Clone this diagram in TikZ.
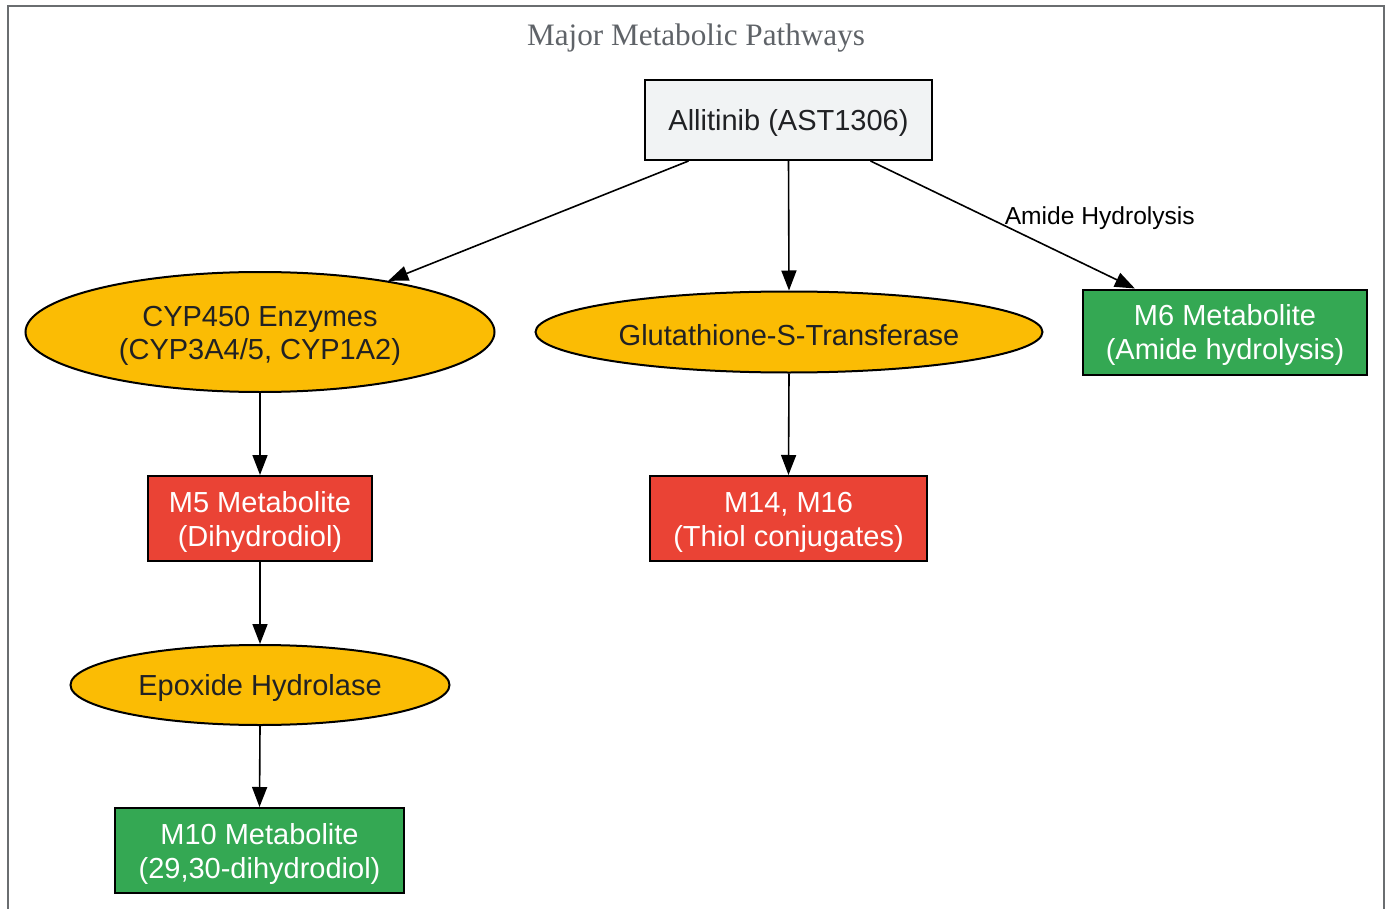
\documentclass[tikz,border=0pt]{standalone}
\usepackage{fontspec}
\setmainfont{Liberation Sans}
\newfontfamily\titlefont{Liberation Serif}
\usetikzlibrary{shapes.geometric,arrows.meta}
\definecolor{cyel}{HTML}{FBBC04}
\definecolor{cred}{HTML}{EA4335}
\definecolor{cgrn}{HTML}{34A853}
\definecolor{cgray}{HTML}{F1F3F4}
\definecolor{ctxt}{HTML}{202124}
\definecolor{cframe}{HTML}{6A6D70}
\definecolor{ctitle}{HTML}{5F6368}
\newcommand\topstrut{\rule{0pt}{14pt}}
\tikzset{
  base/.style={draw=black, line width=1pt, inner sep=0pt, align=center, font=\fontsize{14.5}{17}\selectfont},
  drugbox/.style={base, rectangle, fill=cgray, text=ctxt},
  enzyme/.style={base, ellipse, fill=cyel, text=ctxt},
  redbox/.style={base, rectangle, fill=cred, text=white},
  grnbox/.style={base, rectangle, fill=cgrn, text=white},
  conn/.style={draw=black, line width=0.8pt, -{Triangle[length=10pt,width=7.5pt]}},
  elabel/.style={font=\fontsize{12.3}{14}\selectfont, text=black}
}
\begin{document}
\begin{tikzpicture}[x=0.5pt,y=-0.5pt]
\useasboundingbox (0,0) rectangle (1391,909);
\draw[cframe, line width=1pt] (8,909) -- (8,6) -- (1384,6) -- (1384,909);
\node[font=\titlefont\fontsize{15.6}{18}\selectfont, text=ctitle] (title) at (696,38) {Major Metabolic Pathways};
\node[drugbox, minimum width=143.5pt, minimum height=40pt] (allit) at (788.5,120) {\topstrut Allitinib (AST1306)};
\node[enzyme, minimum width=234.5pt, minimum height=60pt] (cyp) at (260,332) {\topstrut CYP450 Enzymes\\(CYP3A4/5, CYP1A2)};
\node[enzyme, minimum width=253.5pt, minimum height=40.5pt] (gst) at (789,332) {\topstrut Glutathione-S-Transferase};
\node[grnbox, minimum width=142pt, minimum height=42.5pt] (m6) at (1225,332) {\topstrut M6 Metabolite\\(Amide hydrolysis)};
\node[redbox, minimum width=112pt, minimum height=42.5pt] (m5) at (260,518.5) {\topstrut M5 Metabolite\\(Dihydrodiol)};
\node[redbox, minimum width=138.5pt, minimum height=42.5pt] (m14) at (788.5,518.5) {\topstrut M14, M16\\(Thiol conjugates)};
\node[enzyme, minimum width=189.5pt, minimum height=40pt] (epox) at (260,685) {\topstrut Epoxide Hydrolase};
\node[grnbox, minimum width=144.5pt, minimum height=42.5pt] (m10) at (259.5,850.5) {\topstrut M10 Metabolite\\(29,30-dihydrodiol)};
\draw[conn] ([xshift=-50pt]allit.south) -- (cyp);
\draw[conn] (allit.south) -- (gst.north);
\draw[conn] ([xshift=41pt]allit.south) -- node[elabel, pos=0.52, anchor=south west, inner sep=1pt, xshift=-3pt, yshift=-2.5pt] (lbl) {Amide Hydrolysis} (m6);
\draw[conn] (cyp.south) -- (m5.north);
\draw[conn] (gst.south) -- (m14.north);
\draw[conn] (m5.south) -- (epox.north);
\draw[conn] (epox.south) -- (m10.north);
\end{tikzpicture}
\end{document}
